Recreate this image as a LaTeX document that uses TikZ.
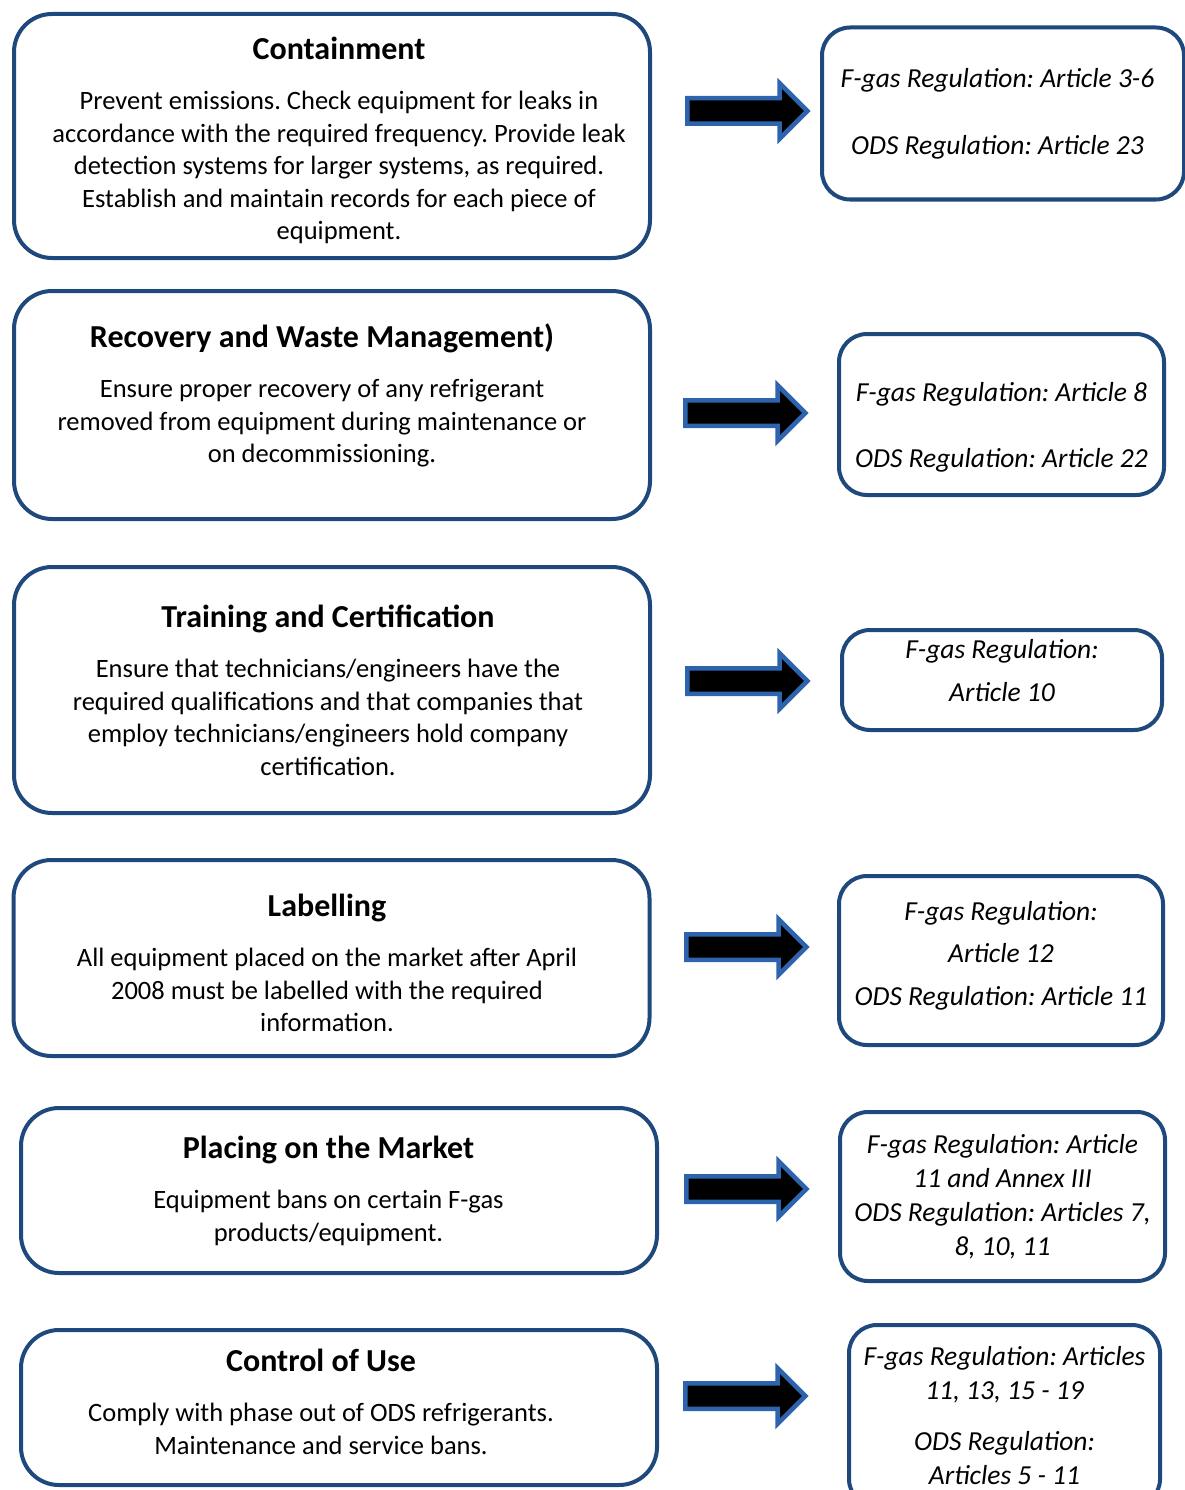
\documentclass[tikz,border=0pt]{standalone}
\usepackage{fontspec}
\setmainfont{Carlito}
\usepackage{xcolor}
\usetikzlibrary{arrows.meta,positioning,shapes.arrows}
\definecolor{Ink}{HTML}{000000}
\definecolor{Frame}{HTML}{1F497D}
\definecolor{ArrowEdge}{HTML}{2E64AE}
\newcommand{\boxtitle}[1]{{\fontsize{32}{32.5}\selectfont\bfseries #1}}
\frenchspacing

\begin{document}
\begin{tikzpicture}[x=1pt,y=-1pt]
\tikzset{dutybox/.style={rounded corners=38pt,line width=4pt,draw=Frame,fill=white,text=Ink,align=center,font=\fontsize{26.5}{32.5}\selectfont,minimum width=636pt,inner sep=0pt}, regbox/.style={rounded corners=28pt,line width=4pt,draw=Frame,fill=white,text=Ink,align=center,font=\fontsize{27.5}{34}\selectfont\itshape,inner sep=0pt}, bigarrow/.style={single arrow,draw=ArrowEdge,fill=black,line width=4.5pt,minimum height=120pt,single arrow head extend=15pt,inner xsep=0pt,inner ysep=10.5pt}, offcentre/.style 2 args={text width=#1,execute at begin node={\spaceskip=0pt\xspaceskip=0pt\leftskip=#2 plus 1fil\rightskip=-#2 plus 1fil}}}
\useasboundingbox (0,0) rectangle (1184,1490);
\node[dutybox,offcentre={600pt}{7pt},minimum height=244pt] (contain) at (332,136) {\rule{0pt}{31pt}\boxtitle{Containment}\\[18pt]Prevent emissions. Check equipment for leaks in\\accordance with the required frequency. Provide leak\\detection systems for larger systems, as required.\\Establish and maintain records for each piece of\\equipment.};
\node[dutybox,offcentre={600pt}{-10pt},minimum height=228pt] (recover) at (332,405) {\boxtitle{Recovery and Waste Management)}\\[18pt]Ensure proper recovery of any refrigerant\\removed from equipment during maintenance or\\on decommissioning.\rule[-24pt]{0pt}{0pt}};
\node[dutybox,offcentre={600pt}{-4pt},minimum height=246pt] (train) at (332,690) {\boxtitle{Training and Certification}\\[18pt]Ensure that technicians/engineers have the\\required qualifications and that companies that\\employ technicians/engineers hold company\\certification.};
\node[dutybox,offcentre={600pt}{-4.5pt},minimum height=196pt] (label) at (331.5,958) {\rule{0pt}{32pt}\boxtitle{Labelling}\\[18pt]All equipment placed on the market after April\\2008 must be labelled with the required\\information.};
\node[dutybox,offcentre={600pt}{-10.5pt},minimum height=165pt] (market) at (339,1190.5) {\boxtitle{Placing on the Market}\\[18pt]Equipment bans on certain F-gas\\products/equipment.};
\node[dutybox,offcentre={600pt}{-18pt},minimum height=155pt] (use) at (339,1407.5) {\boxtitle{Control of Use}\\[18pt]Comply with phase out of ODS refrigerants.\\Maintenance and service bans.\rule[-12pt]{0pt}{0pt}};
\node[regbox,offcentre={340pt}{-5.5pt},minimum width=362pt,minimum height=172pt] (reg1) at (1003,113.5) {F-gas Regulation: Article 3-6\\[33pt]ODS Regulation: Article 23};
\node[regbox,minimum width=325pt,minimum height=161pt] (reg2) at (1001.5,414.5) {\rule{0pt}{45pt}F-gas Regulation: Article 8\\[32pt]ODS Regulation: Article 22};
\node[regbox,minimum width=320pt,minimum height=100pt] (reg3) at (1002,680) {F-gas Regulation:\\[9pt]Article 10\rule[-20pt]{0pt}{0pt}};
\node[regbox,minimum width=324pt,minimum height=169pt] (reg4) at (1001,960.5) {F-gas Regulation:\\[8pt]Article 12\\[9pt]ODS Regulation: Article 11\rule[-14pt]{0pt}{0pt}};
\node[regbox,minimum width=325pt,minimum height=169pt] (reg5) at (1002.5,1196.5) {F-gas Regulation: Article\\11 and Annex III\\ODS Regulation: Articles 7,\\8, 10, 11};
\node[regbox,minimum width=311pt,minimum height=182pt] (reg6) at (1004.5,1416) {F-gas Regulation: Articles\\11, 13, 15 - 19\\[17pt]ODS Regulation:\\Articles 5 - 11};
\node[bigarrow] (arr1) at (741,111) {};
\node[bigarrow] (arr2) at (739,413) {};
\node[bigarrow] (arr3) at (741,681) {};
\node[bigarrow] (arr4) at (740,947) {};
\node[bigarrow] (arr5) at (740,1189) {};
\node[bigarrow] (arr6) at (739,1396) {};
\end{tikzpicture}
\end{document}
